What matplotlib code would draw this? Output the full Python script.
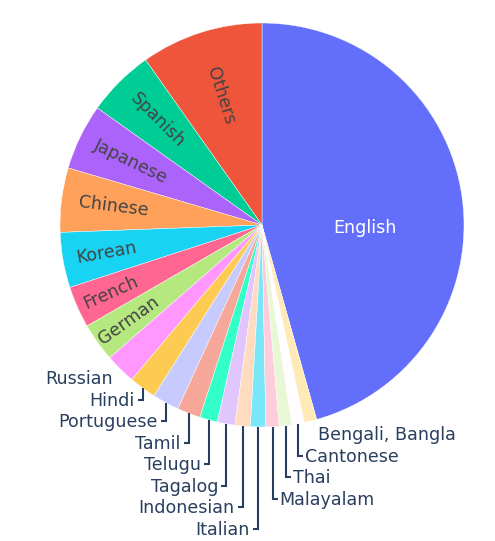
import matplotlib
matplotlib.use("Agg")
import matplotlib.pyplot as plt
import numpy as np
import colorsys
from matplotlib.colors import to_rgb

# ---- data ----
languages = ["English", "Others", "Spanish", "Japanese", "Chinese", "Korean",
             "French", "German", "Russian", "Hindi", "Portuguese", "Tamil",
             "Telugu", "Tagalog", "Indonesian", "Italian", "Malayalam", "Thai",
             "Cantonese", "Bengali, Bangla"]
counts = [1643, 352, 194, 190, 185, 159, 120, 111, 88, 78, 77, 67,
          51, 51, 44, 44, 38, 36, 36, 36]

# ---- style ----
base = ["#636EFA", "#EF553B", "#00CC96", "#AB63FA", "#FFA15A",
        "#19D3F3", "#FF6692", "#B6E880", "#FF97FF", "#FECB52"]


def lighten(c, amt=0.2):
    r, g, b = to_rgb(c)
    h, l, s = colorsys.rgb_to_hls(r, g, b)
    return colorsys.hls_to_rgb(h, min(1.0, l + amt), s)


colors = [to_rgb(c) for c in base] + [lighten(c) for c in base]


def brightness(c):
    r, g, b = c
    return (r * 299 + g * 587 + b * 114) / 1000 * 255


plt.rcParams['font.family'] = ['DejaVu Sans']
FS_PX = 17.5
FS = FS_PX * 0.72
OUT_COLOR = "#2a3f5f"

W, H = 495, 541
fig = plt.figure(figsize=(W / 100, H / 100), dpi=100)
ax = fig.add_axes([0, 0, 1, 1])
R = 202.0
cx, cy = 262.0, 225.0

total = float(sum(counts))
start = 90 - 360 * counts[0] / total
wedges, _ = ax.pie(counts, colors=colors, startangle=start, counterclock=True,
                   radius=1, wedgeprops=dict(linewidth=0.3, edgecolor='white'))
ax.set_aspect('auto')
ax.set_xlim(-cx / R, (W - cx) / R)
ax.set_ylim(-(H - cy) / R, cy / R)
ax.axis('off')

mids = [np.deg2rad((w.theta1 + w.theta2) / 2) for w in wedges]

# inside labels
n_inside = 8
inside_r = [0.51, 0.67, 0.735, 0.72, 0.74, 0.78, 0.82, 0.81]
for i in range(n_inside):
    th = mids[i]
    tc = 'white' if brightness(colors[i]) < 128 else '#444444'
    if i == 0:
        th2 = th - np.deg2rad(9.5)
        ax.text(inside_r[i] * np.cos(th2), inside_r[i] * np.sin(th2), languages[i],
                ha='center', va='center', fontsize=FS, color=tc)
    else:
        deg = np.rad2deg(th)
        rot = deg - 180 if 90 < deg % 360 < 270 else deg
        ax.text(inside_r[i] * np.cos(th), inside_r[i] * np.sin(th), languages[i],
                ha='center', va='center', fontsize=FS, color=tc,
                rotation=rot, rotation_mode='anchor')

# outside labels
step = 21.5 / R
left_idx = [i for i in range(n_inside, len(counts)) if np.cos(mids[i]) < 0]
right_idx = [i for i in range(len(counts) - 1, n_inside - 1, -1) if np.cos(mids[i]) >= 0]


def place(idxs, side):
    prev = None
    off = (9 if side == 'left' else 13) / R
    for i in idxs:
        th = mids[i]
        rx, ry = np.cos(th), np.sin(th)
        nat = ry - off
        y = nat if prev is None else min(nat, prev - step)
        prev = y
        if side == 'left':
            tx, ha, hx = rx - 8 / R, 'right', rx - 5 / R
        else:
            tx, ha, hx = rx + 7 / R, 'left', rx + 5 / R
        if nat - y > 1 / R:
            ax.plot([rx, rx, hx], [ry, y, y], color=OUT_COLOR, lw=1.5,
                    solid_joinstyle='miter', solid_capstyle='butt')
        ax.text(tx, y - 0.3645 * FS_PX / R, languages[i], ha=ha, va='baseline',
                fontsize=FS, color=OUT_COLOR)


place(left_idx, 'left')
place(right_idx, 'right')

fig.savefig("out.png", dpi=100)
